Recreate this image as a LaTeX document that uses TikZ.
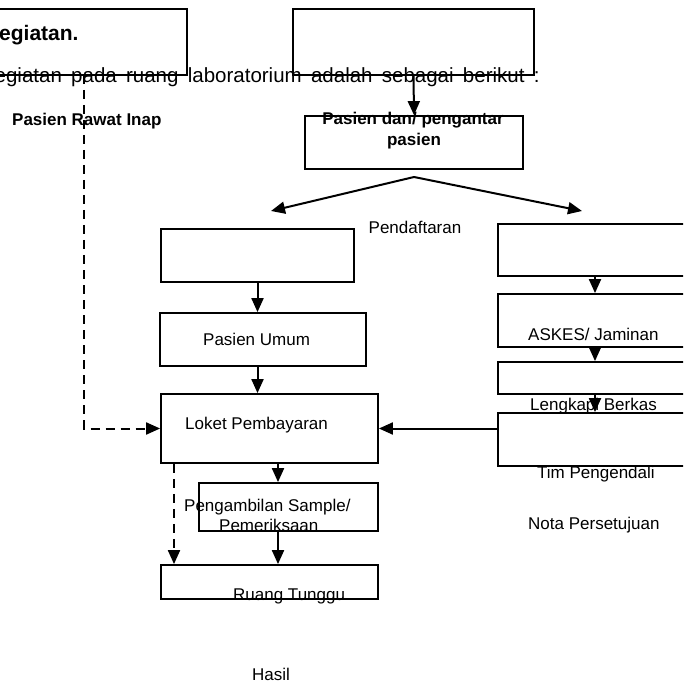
\documentclass[tikz,border=0pt]{standalone}
\usepackage{fontspec}
\setmainfont{Liberation Sans}
\usetikzlibrary{arrows.meta}

\tikzset{
  flowbox/.style={draw, line width=1.8pt, inner sep=0pt},
  arr/.style={line width=2pt, -{Triangle[length=14pt,width=12pt]}},
  darr/.style={line width=2pt, dash pattern=on 9pt off 6pt, -{Triangle[length=14pt,width=12pt]}},
  txt/.style={anchor=base west, inner sep=0pt, font=\fontsize{17pt}{21pt}\selectfont},
  btxt/.style={anchor=base west, inner sep=0pt, font=\fontsize{17pt}{21pt}\selectfont\bfseries},
}

\begin{document}
\begin{tikzpicture}[x=1pt, y=-1pt]
\useasboundingbox (0,0) rectangle (683,684);
\fill[white] (0,0) rectangle (683,684);
\clip (0,0) rectangle (683,684);

% ---- texts (drawn first, box borders run over them) ----
\node[anchor=base west, inner sep=0pt, font=\fontsize{21pt}{25pt}\selectfont\bfseries] (judul) at (-1,41) {egiatan.};
% justified paragraph line
\node[anchor=base west, inner sep=0pt] (intro) at (-5.5,83)
  {\fontsize{20.5pt}{24pt}\selectfont\spaceskip=9.3pt egiatan pada ruang laboratorium adalah sebagai berikut :};
\node[btxt] (trawat) at (12,125.5) {Pasien Rawat Inap};
\node[btxt, anchor=base] (tpasien1) at (413,125) {Pasien dan/ pengantar};
\node[btxt, anchor=base] (tpasien2) at (414,146) {pasien};
\node[txt, anchor=base] (tdaftar) at (415,234) {Pendaftaran};
\node[txt] (tumum) at (203,345) {Pasien Umum};
\node[txt] (tloket) at (185,429) {Loket Pembayaran};
\node[txt] (taskes) at (528,340) {ASKES/ Jaminan};
\node[txt] (tlengkap) at (530,410) {Lengkapi Berkas};
\node[txt] (ttim) at (537,478) {Tim Pengendali};
\node[txt] (tnota) at (528,529) {Nota Persetujuan};
\node[txt] (tambil1) at (184,511) {Pengambilan Sample/};
\node[txt] (tambil2) at (219,531) {Pemeriksaan};
\node[txt] (truang) at (233,600) {Ruang Tunggu};
\node[txt] (thasil) at (252,680) {Hasil};

% ---- boxes ----
\node[flowbox, minimum width=217pt, minimum height=66pt] (tl) at (78.5,42) {};
\node[flowbox, minimum width=241pt, minimum height=66pt] (tr) at (413.5,42) {};
\node[flowbox, minimum width=218pt, minimum height=53pt] (pasien) at (414,142.5) {};
\node[flowbox, minimum width=193pt, minimum height=53pt] (boxA) at (257.5,255.5) {};
\node[flowbox, minimum width=194pt, minimum height=52pt] (boxB) at (595,250) {};
\node[flowbox, minimum width=206pt, minimum height=53pt] (umum) at (263,339.5) {};
\node[flowbox, minimum width=194pt, minimum height=53pt] (askes) at (595,320.5) {};
\node[flowbox, minimum width=194pt, minimum height=32pt] (lengkap) at (595,378) {};
\node[flowbox, minimum width=194pt, minimum height=53pt] (tim) at (595,439.5) {};
\node[flowbox, minimum width=217pt, minimum height=69pt] (loket) at (269.5,428.5) {};
\node[flowbox, minimum width=179pt, minimum height=48pt] (ambil) at (288.5,507) {};
\node[flowbox, minimum width=217pt, minimum height=34pt] (ruang) at (269.5,582) {};

% ---- helper points ----
\coordinate (apex) at (414,177);
\coordinate (ltip) at (271,211);
\coordinate (rtip) at (582,211);
\coordinate (dstart) at (84,75);
\coordinate (colA) at (278,0);
\coordinate (colB) at (174,0);

% ---- connectors ----
\draw[arr] (tr.south) -- (pasien.north);
\draw[arr] (apex) -- (ltip);
\draw[arr] (apex) -- (rtip);
\draw[arr] (boxA.south) -- (boxA.south |- umum.north);
\draw[arr] (boxA.south |- umum.south) -- (boxA.south |- loket.north);
\draw[arr] (boxB.south) -- (askes.north);
\draw[arr] (askes.south) -- (lengkap.north);
\draw[arr] (lengkap.south) -- (tim.north);
\draw[arr] (tim.west |- loket.east) -- (loket.east);
\draw[darr] (dstart) |- (loket.west);
\draw[arr] (loket.south -| colA) -- (ambil.north -| colA);
\draw[arr] (ambil.south -| colA) -- (ruang.north -| colA);
\draw[darr] (loket.south -| colB) -- (ruang.north -| colB);
\end{tikzpicture}
\end{document}
